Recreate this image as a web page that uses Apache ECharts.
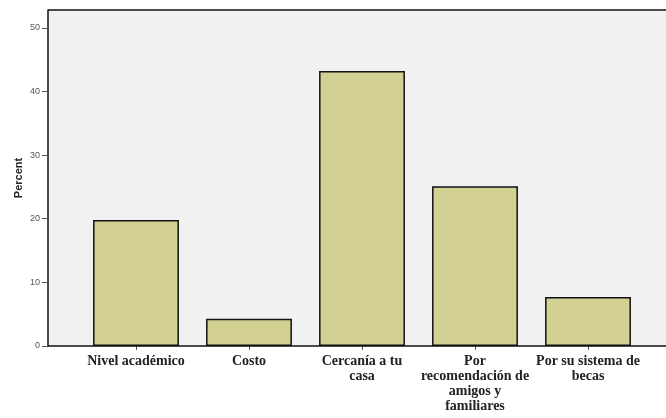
<!DOCTYPE html>
<html>
<head>
<meta charset="utf-8">
<script src="https://cdn.jsdelivr.net/npm/echarts@6/dist/echarts.min.js"></script>
<style>
    html, body { margin: 0; padding: 0; background: #fff; }
    #chart { width: 666px; height: 418px; }
</style>
</head>
<body>
<div id="chart"></div>
<script>
    // categories and percents
    var categories = ['Nivel académico', 'Costo', 'Cercanía a tu\ncasa', 'Por\nrecomendación de\namigos y\nfamiliares', 'Por su sistema de\nbecas'];
    var percents = [19.8, 4.3, 43.2, 25.1, 7.7];
    var yMax = 52.8;

    var chartDom = document.getElementById('chart');
    var myChart = echarts.init(chartDom);
    var option;

    option = {
        animation: false,
        backgroundColor: '#ffffff',
        grid: {
            left: 79.5,
            right: 21.5,
            top: 10,
            bottom: 72
        },
        // plot frame: grey panel, top line and base line run past the bars
        graphic: [
            {
                type: 'rect',
                z: -10,
                shape: { x: 48, y: 10, width: 618, height: 336 },
                style: { fill: '#f1f1f1' }
            },
            {
                type: 'line',
                z: 10,
                shape: { x1: 48, y1: 10, x2: 666, y2: 10 },
                style: { stroke: '#111', lineWidth: 1.5 }
            },
            {
                type: 'line',
                z: 10,
                shape: { x1: 48, y1: 346, x2: 666, y2: 346 },
                style: { stroke: '#111', lineWidth: 1.5 }
            }
        ],
        xAxis: {
            type: 'category',
            data: categories,
            axisLine: { show: false },
            axisTick: {
                show: true,
                alignWithLabel: true,
                length: 4,
                lineStyle: { color: '#555' }
            },
            axisLabel: {
                interval: 0,
                margin: 8,
                fontFamily: 'Liberation Serif',
                fontWeight: 'bold',
                fontSize: 14,
                lineHeight: 15,
                color: '#222'
            }
        },
        yAxis: {
            type: 'value',
            min: 0,
            max: yMax,
            interval: 10,
            offset: 31.5,
            name: 'Percent',
            nameLocation: 'middle',
            nameGap: 24,
            nameMoveOverlap: false,
            nameTextStyle: {
                fontFamily: 'Liberation Sans',
                fontWeight: 'bold',
                fontSize: 11,
                color: '#222'
            },
            axisLine: { show: true, lineStyle: { color: '#111', width: 1.5 } },
            axisTick: { show: true, length: 6, lineStyle: { color: '#555' } },
            axisLabel: {
                showMaxLabel: false,
                margin: 8,
                fontFamily: 'Liberation Sans',
                fontSize: 9,
                color: '#555'
            },
            splitLine: { show: false }
        },
        series: [{
            type: 'bar',
            data: percents,
            barCategoryGap: '24%',
            itemStyle: {
                color: '#d3d093',
                borderColor: '#111',
                borderWidth: 1.5
            }
        }]
    };

    option && myChart.setOption(option);
</script>
</body>
</html>
